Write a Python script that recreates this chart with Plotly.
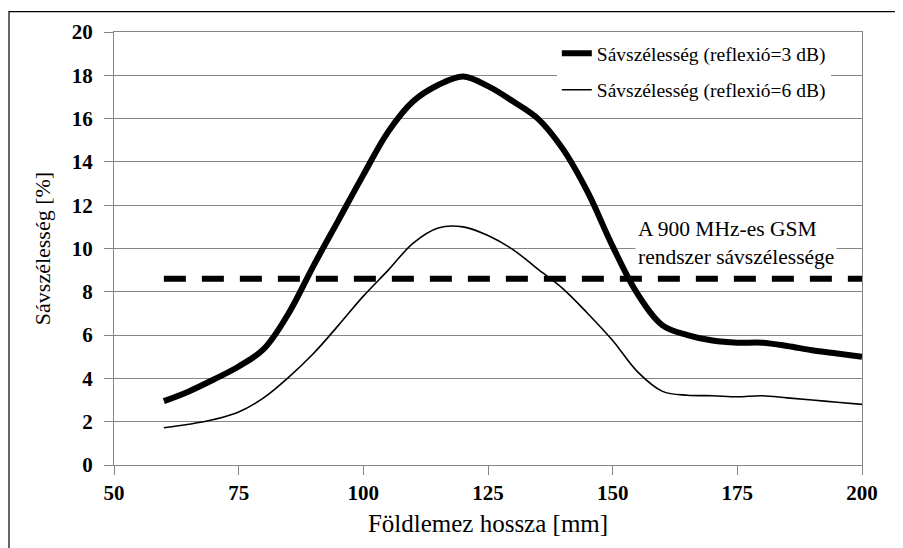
import plotly.graph_objects as go

# ── Data ──────────────────────────
length_mm = [60, 65, 70, 75, 80, 85, 90, 95, 100, 105, 110, 115, 120, 125, 130,
             135, 140, 145, 150, 155, 160, 165, 170, 175, 180, 185, 190, 195, 200]

bw_3db = [2.95, 3.4, 3.95, 4.55, 5.35, 7.0, 9.2, 11.3, 13.4, 15.4, 16.8, 17.55, 17.95, 17.5, 16.8,
          16.0, 14.6, 12.6, 10.1, 7.9, 6.45, 6.0, 5.75, 5.65, 5.65, 5.5, 5.3, 5.15, 5.0]

bw_6db = [1.72, 1.88, 2.1, 2.45, 3.1, 4.05, 5.15, 6.45, 7.8, 9.0, 10.25, 10.95, 11.0, 10.6, 9.95,
          9.05, 8.15, 7.0, 5.75, 4.3, 3.4, 3.22, 3.2, 3.15, 3.2, 3.1, 3.0, 2.9, 2.8]

gsm_x = [60, 200]
gsm_bw = [8.6, 8.6]

# ── Style ──────────────────────────
C_LINE = "#000000"
C_GRID = "#868686"
FONT = "Liberation Serif, Times New Roman, serif"

# page body has an 8px margin, so the figure is 8px smaller than the window
W, H = 895, 540
M_L, M_R, M_T, M_B = 106, 41, 21, 83

fig = go.Figure()

fig.add_trace(go.Scatter(
    x=length_mm, y=bw_3db, mode="lines", line_shape="spline",
    name="Sávszélesség (reflexió=3 dB)", legendgroup="a",
    line=dict(color=C_LINE, width=6),
))
fig.add_trace(go.Scatter(
    x=length_mm, y=bw_6db, mode="lines", line_shape="spline",
    name="Sávszélesség (reflexió=6 dB)", legendgroup="b",
    line=dict(color=C_LINE, width=1.6),
))
fig.add_trace(go.Scatter(
    x=gsm_x, y=gsm_bw, mode="lines", showlegend=False,
    line=dict(color=C_LINE, width=6, dash="22px,16px"),
))

fig.add_annotation(
    text="A 900 MHz-es GSM<br>rendszer sávszélessége",
    xref="paper", yref="paper", x=0.697, y=0.512,
    xanchor="left", yanchor="middle", align="left",
    showarrow=False, bgcolor="white", borderpad=2,
    font=dict(family=FONT, size=21.5, color="black"),
)

# outer frame of the picture (in paper units of the plot area)
pw, ph = W - M_L - M_R, H - M_T - M_B
fig.add_shape(type="rect", xref="paper", yref="paper",
              x0=(1 - M_L) / pw, x1=(W - 2 - M_L) / pw,
              y0=-0.25, y1=(H - M_B - 0.5) / ph,
              line=dict(color="black", width=1.2), fillcolor="rgba(0,0,0,0)")

fig.update_layout(
    width=W, height=H,
    paper_bgcolor="white", plot_bgcolor="white",
    margin=dict(l=M_L, r=M_R, t=M_T, b=M_B),
    font=dict(family=FONT, color="black"),
    showlegend=True,
    legend=dict(
        x=0.592, y=0.995, xanchor="left", yanchor="top",
        bgcolor="white", borderwidth=0,
        traceorder="grouped", tracegroupgap=8,
        font=dict(family=FONT, size=19.5, color="black"),
    ),
    xaxis=dict(
        range=[50, 200], dtick=25, tick0=50,
        showline=True, linecolor=C_GRID, linewidth=1.3, mirror=True,
        showgrid=False, zeroline=False,
        ticks="outside", ticklen=9, tickcolor=C_GRID,
        tickfont=dict(family=FONT, size=21, weight="bold", color="black"),
        title=dict(text="Földlemez hossza [mm]", standoff=10,
                   font=dict(family=FONT, size=25, color="black")),
    ),
    yaxis=dict(
        range=[0, 20], dtick=2,
        showline=True, linecolor=C_GRID, linewidth=1.3, mirror=True,
        showgrid=True, gridcolor=C_GRID, gridwidth=1.2, zeroline=False,
        ticks="outside", ticklen=9, tickcolor=C_GRID,
        ticklabelstandoff=7,
        tickfont=dict(family=FONT, size=21, weight="bold", color="black"),
        title=dict(text="Sávszélesség [%]", standoff=14,
                   font=dict(family=FONT, size=22, color="black")),
    ),
)

fig.write_html("out.html")
